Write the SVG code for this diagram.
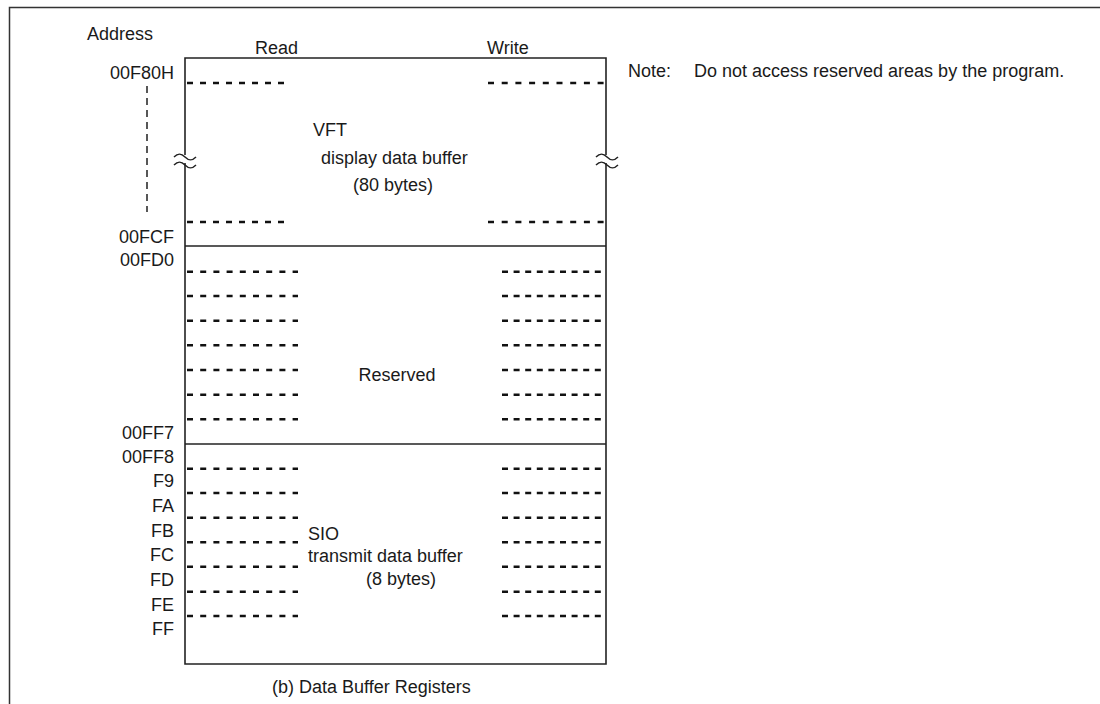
<svg xmlns="http://www.w3.org/2000/svg" width="1100" height="704" viewBox="0 0 1100 704">
<style>
text{font-family:"Liberation Sans",Arial,sans-serif;font-size:18px;fill:#1a1a1a}
.r{text-anchor:end}
.frame{fill:none;stroke:#333;stroke-width:1.5}
.box{fill:none;stroke:#222;stroke-width:1.6}
.dl{stroke:#111;stroke-width:2.6;stroke-dasharray:6 7.2}
.dr{stroke:#111;stroke-width:2.6;stroke-dasharray:6 5.6}
.brk{fill:none;stroke:#222;stroke-width:1.5}
</style>
<rect width="1100" height="704" fill="#fff"/>
<path class="frame" d="M9.5 704V7.5H1100"/>
<g id="labels">
<text x="87" y="40">Address</text>
<text x="255" y="54">Read</text>
<text x="487" y="54">Write</text>
<text class="r" x="174" y="79">00F80H</text>
<text class="r" x="174" y="243">00FCF</text>
<text class="r" x="174" y="266">00FD0</text>
<text class="r" x="174" y="439">00FF7</text>
<text class="r" x="174" y="463">00FF8</text>
<text class="r" x="174" y="487">F9</text>
<text class="r" x="174" y="512">FA</text>
<text class="r" x="174" y="537">FB</text>
<text class="r" x="174" y="561">FC</text>
<text class="r" x="174" y="586">FD</text>
<text class="r" x="174" y="611">FE</text>
<text class="r" x="174" y="635">FF</text>
<line x1="147" y1="86" x2="147" y2="212" stroke="#111" stroke-width="1.4" stroke-dasharray="7 5"/>
</g>
<g id="map">
<path class="box" d="M185 155V58H606V155M185 163V664H606V163"/>
<line class="box" x1="185" y1="246" x2="606" y2="246"/>
<line class="box" x1="185" y1="444" x2="606" y2="444"/>
<path class="brk" d="M174 157c4-4 7-4 11 0s7 4 11 0M174 165c4-4 7-4 11 0s7 4 11 0M596 157c4-4 7-4 11 0s7 4 11 0M596 165c4-4 7-4 11 0s7 4 11 0"/>
</g>
<g id="vft">
<line x1="187" y1="83" x2="285" y2="83" class="dl" style="stroke-dasharray:6 7"/>
<line x1="488" y1="83" x2="604" y2="83" class="dr" style="stroke-dasharray:6 7.7"/>
<line x1="187" y1="222" x2="285" y2="222" class="dl" style="stroke-dasharray:6 7"/>
<line x1="488" y1="222" x2="604" y2="222" class="dr" style="stroke-dasharray:6 7.7"/>
<text x="313" y="136">VFT</text>
<text x="321" y="164">display data buffer</text>
<text x="353" y="191">(80 bytes)</text>
</g>
<g id="reserved">
<path class="dl" d="M187 271.7H298M187 296H298M187 320.7H298M187 345.3H298M187 370H298M187 394.7H298M187 419.3H298"/>
<path class="dr" d="M502 271.7H604M502 296H604M502 320.7H604M502 345.3H604M502 370H604M502 394.7H604M502 419.3H604"/>
<text x="397" y="381" text-anchor="middle">Reserved</text>
</g>
<g id="sio">
<path class="dl" d="M187 468.7H298M187 493H298M187 517.7H298M187 542.3H298M187 566.7H298M187 591.7H298M187 616H298"/>
<path class="dr" d="M502 468.7H604M502 493H604M502 517.7H604M502 542.3H604M502 566.7H604M502 591.7H604M502 616H604"/>
<text x="308" y="540">SIO</text>
<text x="308" y="562">transmit data buffer</text>
<text x="366" y="585">(8 bytes)</text>
</g>
<g id="notes">
<text x="628" y="77">Note:</text>
<text x="694" y="77">Do not access reserved areas by the program.</text>
<text x="272" y="693">(b) Data Buffer Registers</text>
</g>
</svg>
